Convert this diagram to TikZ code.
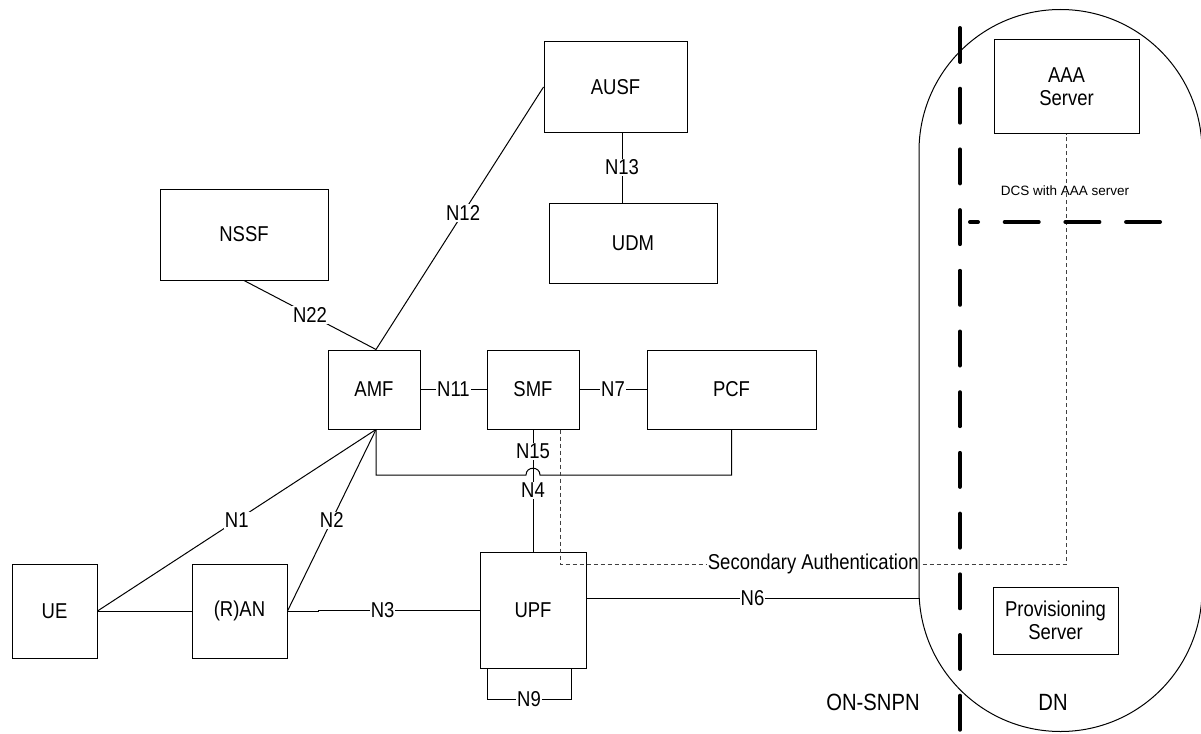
\documentclass[tikz,border=0pt]{standalone}
\usepackage{fontspec}
\setmainfont[FakeStretch=0.86]{Liberation Sans}
\newfontfamily\plainsans{Liberation Sans}
\newcommand\diafont{\fontsize{21.5}{23}\selectfont}
\newcommand\bigdiafont{\fontsize{23.5}{25}\selectfont}
\newcommand\smalldiafont{\plainsans\fontsize{13.5}{16}\selectfont}
\begin{document}
\begin{tikzpicture}[x=1pt,y=-1pt,
  box/.style={draw=black,line width=1pt,inner sep=0pt,font=\diafont,align=center},
  link/.style={draw=black,line width=1pt},
  lbl/.style={fill=white,inner sep=1pt,font=\diafont},
  auth/.style={draw=black!75,line width=0.9pt,dash pattern=on 4pt off 3pt},
  bound/.style={draw=black,line width=4pt,line cap=round,dash pattern=on 34pt off 26.7pt}]
\useasboundingbox (0,0) rectangle (1201,733);

% network functions
\node[box,minimum width=143pt,minimum height=90pt] (ausf) at (615.5,87) {AUSF};
\node[box,minimum width=168pt,minimum height=80pt] (udm) at (633,243) {UDM};
\node[box,minimum width=168pt,minimum height=91pt] (nssf) at (244,234.5) {NSSF};
\node[box,minimum width=92pt,minimum height=79pt] (amf) at (374,389.5) {AMF};
\node[box,minimum width=92pt,minimum height=79pt] (smf) at (533,389.5) {SMF};
\node[box,minimum width=169pt,minimum height=79pt] (pcf) at (731.5,389.5) {PCF};
\node[box,minimum width=85pt,minimum height=94pt] (ue) at (54.5,611) {UE};
\node[box,minimum width=95pt,minimum height=94pt] (ran) at (239.5,611) {(R)AN};
\node[box,minimum width=106pt,minimum height=116pt] (upf) at (533,610) {UPF};
\node[box,minimum width=145pt,minimum height=93pt] (aaa) at (1066.5,86.5) {AAA\\Server};
\node[box,minimum width=125pt,minimum height=67pt] (prov) at (1055.5,620.5) {Provisioning\\Server};

% helper coordinates
\coordinate (cx) at (376,0);
\coordinate (n13x) at (622,0);
\coordinate (jl) at (526,475);
\coordinate (jr) at (540,475);
\coordinate (n3j) at (318,610);
\coordinate (dnl) at (918.5,598);
\coordinate (n9a) at (487,699);
\coordinate (n9b) at (571,699);
\coordinate (sa) at (560,564);

% connectors
\draw[link] (nssf.south) -- node[lbl,pos=0.5]{N22} (amf.north -| cx);
\draw[link] (amf.north -| cx) -- node[lbl,pos=0.52]{N12} (ausf.west);
\draw[link] (ausf.south -| n13x) -- node[lbl,pos=0.5]{N13} (udm.north -| n13x);
\draw[link] (amf.east) -- node[lbl,pos=0.5]{N11} (smf.west);
\draw[link] (smf.east) -- node[lbl,pos=0.5]{N7} (pcf.west);
\draw[link] (amf.south -| cx) |- (jl) .. controls +(0,-9) and +(0,-9) .. (jr) -| (pcf.south);
\draw[link] (smf.south) -- node[lbl,pos=0.18]{N15} node[lbl,pos=0.5]{N4} (upf.north);
\draw[link] (ue.east) -- (ran.west);
\draw[link] (ue.east) -- node[lbl,pos=0.5]{N1} (amf.south -| cx);
\draw[link] (ran.east) -- node[lbl,pos=0.5]{N2} (amf.south -| cx);
\draw[link] (ran.east) -- (ran.east -| n3j) -- (n3j) -- node[lbl,pos=0.4]{N3} (upf.west);
\draw[link] (upf.east |- dnl) -- node[lbl,pos=0.5]{N6} (dnl);
\draw[link] (upf.south -| n9a) |- node[lbl,pos=0.75]{N9} (n9b) -- (upf.south -| n9b);
\draw[auth] (smf.south -| sa) |- node[lbl,pos=0.75]{Secondary Authentication} (aaa.south |- sa) -- (aaa.south);

% data network area
\draw[line width=1pt] (919,590) -- (919,151) arc[start angle=180,end angle=0,radius=141.5pt] -- (1202,590) arc[start angle=0,end angle=-180,radius=141.5pt] -- cycle;
\draw[bound] (960,28) -- (960,740);
\draw[bound,dash phase=26pt] (970,222) -- (1160,222);

\node[font=\smalldiafont,inner sep=0pt] (dcs) at (1065,191) {DCS with AAA server};
\node[font=\bigdiafont,inner sep=0pt] (onsnpn) at (873,702) {ON-SNPN};
\node[font=\bigdiafont,inner sep=0pt] (dn) at (1053,702) {DN};
\end{tikzpicture}
\end{document}
